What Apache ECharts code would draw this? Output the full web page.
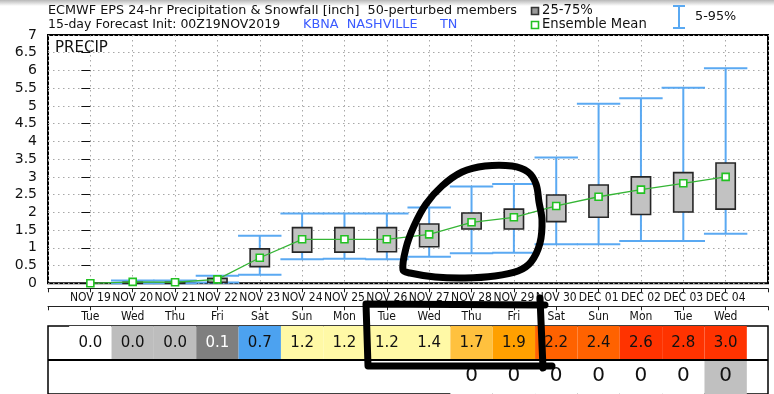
<!DOCTYPE html>
<html><head><meta charset="utf-8">
<script src="https://cdn.jsdelivr.net/npm/echarts@6/dist/echarts.min.js"></script>
<style>html,body{margin:0;padding:0;background:#fff}#c{width:774px;height:394px}</style>
</head><body><div id="c"></div>
<script>
// ---- data ----
const dates = ['NOV 19','NOV 20','NOV 21','NOV 22','NOV 23','NOV 24','NOV 25','NOV 26','NOV 27','NOV 28','NOV 29','NOV 30','DEC 01','DEC 02','DEC 03','DEC 04'];
const weekdays = ['Tue','Wed','Thu','Fri','Sat','Sun','Mon','Tue','Wed','Thu','Fri','Sat','Sun','Mon','Tue','Wed'];
const p05 = [0, 0, 0, 0.02, 0.24, 0.68, 0.69, 0.68, 0.75, 0.85, 0.86, 1.10, 1.10, 1.19, 1.19, 1.40];
const p25 = [0, 0, 0, 0.03, 0.47, 0.88, 0.88, 0.89, 1.03, 1.53, 1.53, 1.74, 1.86, 1.94, 2.01, 2.09];
const p75 = [0, 0.03, 0.03, 0.14, 0.97, 1.57, 1.57, 1.57, 1.67, 1.98, 2.09, 2.49, 2.77, 3.00, 3.12, 3.39];
const p95 = [0, 0.08, 0.08, 0.21, 1.34, 1.97, 1.97, 1.97, 2.14, 2.73, 2.80, 3.55, 5.06, 5.22, 5.51, 6.06];
const ensMean = [0, 0.04, 0.03, 0.11, 0.72, 1.24, 1.24, 1.24, 1.38, 1.72, 1.86, 2.18, 2.44, 2.64, 2.82, 3.00];
const snowfall = [null, null, null, null, null, null, null, null, null, 0, 0, 0, 0, 0, 0, 0.02];

// ---- styles ----
const FONT = 'DejaVu Sans';
const COND = '"DejaVu Sans Condensed", "Liberation Sans Narrow", "DejaVu Sans"';
const BLUE = '#5aa9f2';
const GREEN = '#22c122';
function precipColor(v) {
  if (v <= 0) return '#ffffff';
  if (v < 0.1) return '#bdbdbd';
  if (v < 0.5) return '#7f7f7f';
  if (v < 1.0) return '#4ca2f0';
  if (v < 1.5) return '#fff9a6';
  if (v < 1.8) return '#ffc13e';
  if (v < 2.0) return '#ffa000';
  if (v < 2.5) return '#ff6200';
  return '#ff3300';
}
function snowColor(v) { return v > 0 ? '#c0c0c0' : '#ffffff'; }

const boxData = dates.map((d, i) => [i, p05[i], p25[i], p75[i], p95[i]]);
const meanData = dates.map((d, i) => [i, ensMean[i]]);
const precipCells = dates.map((d, i) => [i, 0, ensMean[i]]);
const snowCells = [];
snowfall.forEach((v, i) => { if (v !== null) snowCells.push([i, 1, v]); });

const dotted = { show: true, lineStyle: { color: '#a8a8a8', type: [1.5, 3.5], width: 1 } };
function xBase(extra) {
  return Object.assign({ type: 'value', min: -1, max: 16, interval: 1, gridIndex: 0 }, extra);
}

const chart = echarts.init(document.getElementById('c'), null, { renderer: 'canvas' });
chart.setOption({
  animation: false,
  backgroundColor: '#fff',
  grid: [
    { left: 48, right: 6, top: 35, bottom: 110.7, show: true, borderColor: '#000', borderWidth: 2, backgroundColor: 'transparent' },
    { left: 48, right: 6, top: 326, height: 72, show: true, borderColor: '#000', borderWidth: 1.5, backgroundColor: 'transparent' }
  ],
  xAxis: [
    xBase({ axisLine: { show: false }, axisTick: { show: false }, axisLabel: { show: false }, splitLine: dotted }),
    xBase({ position: 'bottom', offset: 5, splitLine: { show: false },
      axisLine: { show: true, lineStyle: { color: '#222', width: 1 } },
      axisTick: { show: true, length: 4, lineStyle: { color: '#222' } },
      axisLabel: { margin: 4, fontSize: 12, fontFamily: COND, color: '#111', showMinLabel: true, showMaxLabel: true,
        formatter: v => dates[v] || '' } }),
    xBase({ position: 'bottom', offset: 23, splitLine: { show: false },
      axisLine: { show: true, lineStyle: { color: '#222', width: 1 } },
      axisTick: { show: true, length: 4, lineStyle: { color: '#222' } },
      axisLabel: { margin: 5, fontSize: 12, fontFamily: COND, color: '#111', showMinLabel: true, showMaxLabel: true,
        formatter: v => weekdays[v] || '' } }),
    { type: 'value', gridIndex: 1, min: -1, max: 16, interval: 1, show: false }
  ],
  yAxis: [
    { type: 'value', gridIndex: 0, min: 0, max: 7, interval: 0.5,
      axisLine: { show: false },
      axisTick: { show: true, length: 9, lineStyle: { color: '#111', width: 1 } },
      axisLabel: { margin: 11, fontSize: 14, fontFamily: FONT, color: '#111' },
      splitLine: dotted },
    { type: 'value', gridIndex: 1, min: 0, max: 2, inverse: true, show: false }
  ],
  series: [
    {
      name: '5-95% / 25-75%', type: 'custom', xAxisIndex: 0, yAxisIndex: 0, data: boxData,
      encode: { x: 0, y: [1, 2, 3, 4] }, z: 3,
      renderItem(params, api) {
        const i = api.value(0);
        if (api.value(4) <= 0) return null;
        const lo = api.coord([i, api.value(1)]);
        const q1 = api.coord([i, api.value(2)]);
        const q3 = api.coord([i, api.value(3)]);
        const hi = api.coord([i, api.value(4)]);
        const unit = api.size([1, 0])[0];
        const capW = unit * 1.025, boxW = unit * 0.455;
        const x = lo[0];
        const ls = { stroke: BLUE, lineWidth: 2 };
        return { type: 'group', children: [
          { type: 'line', shape: { x1: x, y1: lo[1], x2: x, y2: hi[1] }, style: ls },
          { type: 'line', shape: { x1: x - capW / 2, y1: hi[1], x2: x + capW / 2, y2: hi[1] }, style: ls },
          { type: 'line', shape: { x1: x - capW / 2, y1: lo[1], x2: x + capW / 2, y2: lo[1] }, style: ls },
          { type: 'rect', shape: { x: x - boxW / 2, y: q3[1], width: boxW, height: Math.max(q1[1] - q3[1], 0.5) },
            style: { fill: '#c2c2c2', stroke: '#262626', lineWidth: 1.6 } }
        ] };
      }
    },
    {
      name: 'Ensemble Mean', type: 'line', xAxisIndex: 0, yAxisIndex: 0, data: meanData, z: 5,
      symbol: 'rect', symbolSize: 7, showSymbol: true, clip: false,
      lineStyle: { color: '#35b535', width: 1.3 },
      itemStyle: { color: '#fff', borderColor: GREEN, borderWidth: 1.6 }
    },
    {
      name: 'Daily mean', type: 'custom', xAxisIndex: 3, yAxisIndex: 1, data: precipCells, z: 2,
      renderItem(params, api) {
        const i = api.value(0), r = api.value(1), v = api.value(2);
        const tl = api.coord([i - 0.5, r]);
        const br = api.coord([i + 0.5, r + 1]);
        const cs = params.coordSys;
        const children = [
          { type: 'rect', shape: { x: tl[0], y: tl[1], width: br[0] - tl[0], height: br[1] - tl[1] }, style: { fill: precipColor(v) } },
          { type: 'text', x: (tl[0] + br[0]) / 2, y: (tl[1] + br[1]) / 2,
            style: { text: v.toFixed(1), fill: (v >= 0.1 && v < 0.5) ? '#fff' : '#111', font: '15px ' + FONT, align: 'center', verticalAlign: 'middle' } }
        ];
        if (params.dataIndex === 0) {
          children.push({ type: 'line', z2: 10, shape: { x1: cs.x, y1: br[1], x2: cs.x + cs.width, y2: br[1] }, style: { stroke: '#000', lineWidth: 2 } });
        }
        return { type: 'group', children };
      }
    },
    {
      name: 'Snowfall', type: 'custom', xAxisIndex: 3, yAxisIndex: 1, data: snowCells, z: 1,
      renderItem(params, api) {
        const i = api.value(0), r = api.value(1), v = api.value(2);
        const tl = api.coord([i - 0.5, r]);
        const br = api.coord([i + 0.5, r + 1]);
        return { type: 'group', children: [
          { type: 'rect', shape: { x: tl[0], y: tl[1] + 1, width: br[0] - tl[0], height: br[1] - tl[1] }, style: { fill: snowColor(v) } },
          { type: 'text', x: (tl[0] + br[0]) / 2, y: (tl[1] + br[1]) / 2 - 1,
            style: { text: v.toFixed(0), fill: '#111', font: '20px ' + FONT, align: 'center', verticalAlign: 'middle' } }
        ] };
      }
    }
  ],
  graphic: [
    { type: 'rect', shape: { x: 0, y: 0, width: 774, height: 6 }, silent: true,
      style: { fill: new echarts.graphic.LinearGradient(0, 0, 0, 1, [{ offset: 0, color: '#b8b8b8' }, { offset: 1, color: '#ffffff' }]) } },
    { type: 'text', left: 48, top: 4, style: { text: 'ECMWF EPS 24-hr Precipitation & Snowfall [inch]  50-perturbed members', font: '12.8px ' + FONT, fill: '#111' } },
    { type: 'text', left: 48, top: 18, style: { text: '15-day Forecast Init: 00Z19NOV2019', font: '12.5px ' + FONT, fill: '#111' } },
    { type: 'text', left: 303, top: 18, style: { text: 'KBNA  NASHVILLE', font: '12.8px ' + FONT, fill: '#3b5bff' } },
    { type: 'text', left: 440, top: 18, style: { text: 'TN', font: '12.8px ' + FONT, fill: '#3b5bff' } },
    { type: 'rect', shape: { x: 531.5, y: 7.5, width: 7, height: 7 }, style: { fill: '#999', stroke: '#333', lineWidth: 1.6 } },
    { type: 'text', left: 542, top: 4, style: { text: '25-75%', font: '13.2px ' + FONT, fill: '#111' } },
    { type: 'rect', shape: { x: 531.5, y: 21.5, width: 7, height: 7 }, style: { fill: '#fff', stroke: GREEN, lineWidth: 1.6 } },
    { type: 'text', left: 542, top: 18, style: { text: 'Ensemble Mean', font: '13.2px ' + FONT, fill: '#111' } },
    { type: 'polyline', shape: { points: [[673, 6], [685, 6]] }, style: { stroke: BLUE, lineWidth: 2 } },
    { type: 'polyline', shape: { points: [[679, 6], [679, 28]] }, style: { stroke: BLUE, lineWidth: 2 } },
    { type: 'polyline', shape: { points: [[673, 28], [685, 28]] }, style: { stroke: BLUE, lineWidth: 2 } },
    { type: 'text', left: 695, top: 10, style: { text: '5-95%', font: '12.8px ' + FONT, fill: '#111' } },
    { type: 'text', left: 55, top: 41, style: { text: 'PRECIP', font: '15px ' + FONT, fill: '#111' } },
    // hand-drawn annotations
    { type: 'polygon', z: 100, shape: { smooth: 0.35, points: [[403,270],[406,248],[414,226],[426,204],[442,186],[462,172],[485,166],[512,166],[528,172],[536,184],[539,202],[542,220],[540,243],[531,262],[518,271],[495,276],[465,278],[435,277],[410,273]] },
      style: { fill: 'none', stroke: '#000', lineWidth: 7 } },
    { type: 'polyline', z: 100, shape: { points: [[545,305],[366,304],[368,366],[552,366]] }, style: { stroke: '#000', lineWidth: 7, lineCap: 'round', lineJoin: 'round' } },
    { type: 'polyline', z: 100, shape: { points: [[540,298],[543,368]] }, style: { stroke: '#000', lineWidth: 7, lineCap: 'round' } }
  ]
});
</script></body></html>
